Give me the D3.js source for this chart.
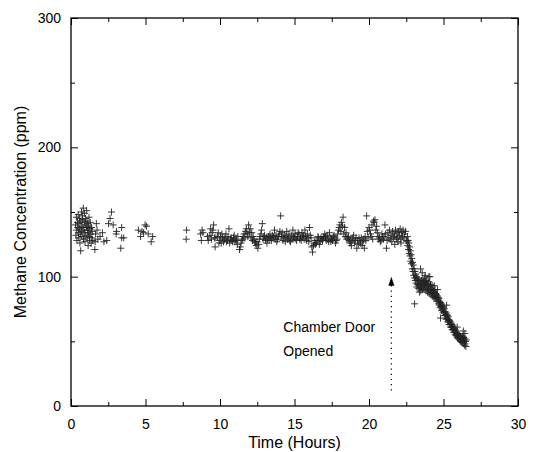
<!DOCTYPE html>
<meta charset="utf-8">
<script src="https://d3js.org/d3.v7.min.js"></script>
<style>
  body { margin: 0; background: #fff; }
  svg { font-family: 'Liberation Sans', Arial, sans-serif; }
</style>
<body>
<div id="chart"></div>
<script>

// readings, [hours, ppm]
var earlyCluster = [
  [0.3,140],[0.33,132],[0.36,146],[0.38,136],[0.4,128],[0.43,142],[0.45,138],[0.48,148],[0.5,134],[0.52,130],
  [0.54,141],[0.56,145],[0.58,137],[0.6,126],[0.63,133],[0.65,120],[0.66,143],[0.68,139],[0.7,150],[0.72,135],
  [0.74,131],[0.76,144],[0.78,147],[0.8,138],[0.82,153],[0.84,129],[0.86,136],[0.88,142],[0.9,149],[0.92,134],
  [0.94,127],[0.96,140],[0.98,145],[1.0,132],[1.03,138],[1.05,151],[1.07,143],[1.09,130],[1.11,136],[1.13,141],
  [1.15,124],[1.17,134],[1.19,139],[1.21,146],[1.23,131],[1.25,128],[1.27,137],[1.29,142],[1.32,133],[1.35,126],
  [1.38,138],[1.4,130],[1.43,135],[1.46,128]
];

var earlyScatter = [
  [1.6,121],[1.62,127],[1.65,133],[1.7,141],[1.75,136],[1.8,129],[1.95,131],[2.11,134],[2.21,127],[2.4,128],
  [2.52,141],[2.62,145],[2.72,150],[2.83,140],[3.03,133],[3.06,135],[3.34,122],[3.4,138],[3.4,130],[3.54,130],
  [4.52,136],[4.67,131],[4.77,135],[4.87,134],[4.97,140],[5.07,139],[5.18,133],[5.38,127],[5.48,131]
];

var steadyA = [
  [7.73,129],[7.76,136],[8.70,133],[8.75,128],[8.80,136],[8.86,134],
  [9.16,131],[9.37,137],[9.47,134],[9.57,140],[9.67,123],[9.72,130],[9.88,134],[9.98,128],[10.08,126],[10.18,130],[10.29,129],
  [10.4,133],[10.5,128],[10.6,137],[10.7,129],[10.8,128],[10.9,130],[11.0,127],[11.1,128],[11.2,131],[11.31,121],[11.36,123],[11.41,126],
  [11.52,129],[11.62,133],[11.72,135],[11.82,133],[11.92,140],[12.03,137],[12.13,134],[12.23,131],[12.33,127],[12.38,126],[12.43,124],
  [12.54,122],[12.64,129],[12.74,133],[12.84,141],[12.94,131],
  [13.05,128],[13.15,126],[13.25,131],[13.35,133],[13.45,128],[13.56,130],[13.66,136],[13.76,132],[13.86,129],[13.97,133],[14.07,147],
  [14.17,134],[14.27,130],[14.38,127],[14.48,135],[14.58,130],[14.68,128],[14.78,132],[14.89,136],[14.99,130],[15.09,129],[15.19,131],[15.3,133],
  [15.4,130],[15.5,134],[15.6,132],[15.7,136],[15.81,128],[15.91,130],[16.01,138],[16.11,130],[16.16,123],[16.21,119],[16.32,126],
  [16.42,125],[16.52,128],[16.62,130],[16.73,127],[16.83,129],[16.93,131],[17.03,133],[17.13,128],[17.24,129],
  [17.34,134],[17.44,127],[17.54,128],[17.65,132],[17.75,126],[17.85,129],[17.95,136],[18.05,140],[18.16,142],[18.26,146],[18.36,138],
  [18.46,134],[18.57,130],[18.67,128],[18.77,127],[18.87,129],[18.97,132],[19.08,128],[19.18,122],[19.28,125],[19.38,128],[19.48,130],
  [19.59,127],[19.69,122],[19.79,128],[19.84,147],[19.89,135],[20.0,138],[20.1,133],[20.2,140],[20.3,143],[20.35,142],[20.4,144],
  [20.51,139],[20.61,131],[20.66,129],[20.71,130],[20.81,128],[20.92,131]
];

var steadyB = [
  [9.21,128],[9.32,132],[9.42,129],[9.52,136],[9.62,130],[9.83,131],[9.93,126],[10.03,131],[10.13,133],[10.24,127],[10.34,130],[10.44,127],
  [10.54,131],[10.65,126],[10.75,130],[10.85,127],[10.95,132],[11.05,129],[11.16,125],[11.46,128],[11.56,131],[11.67,130],[11.77,137],
  [11.87,131],[11.97,134],[12.08,130],[12.18,128],[12.28,129],[12.48,127],[12.59,125],[12.69,131],[12.79,136],[12.89,129],[12.99,132],
  [13.1,130],[13.2,129],[13.3,128],[13.4,130],[13.51,132],[13.61,131],[13.71,129],[13.81,127],[13.92,131],[14.02,135],[14.12,131],
  [14.22,128],[14.32,132],[14.43,131],[14.53,129],[14.63,133],[14.73,127],[14.84,129],[14.94,131],[15.04,133],[15.14,128],[15.24,134],
  [15.35,129],[15.45,128],[15.55,131],[15.65,129],[15.75,131],[15.86,133],[15.96,127],[16.06,132],[16.27,124],[16.37,128],[16.47,126],
  [16.57,131],[16.67,125],[16.78,130],[16.88,128],[16.98,130],[17.08,131],[17.19,132],[17.29,127],[17.39,130],[17.49,129],[17.6,131],
  [17.7,130],[17.8,128],[17.9,133],[18.0,138],[18.11,135],[18.21,139],[18.31,133],[18.41,131],[18.51,129],[18.62,131],[18.72,126],
  [18.82,124],[18.92,130],[19.03,126],[19.13,130],[19.23,128],[19.33,130],[19.43,126],[19.54,124],[19.64,129],[19.74,131],[19.94,130],
  [20.05,136],[20.15,131],[20.25,129],[20.46,136],[20.56,134],[20.76,127],[20.87,133],[20.97,129]
];

var plateau = [
  [21.02,131],[21.07,140],[21.12,133],[21.17,122],[21.22,128],[21.27,134],[21.33,130],[21.38,136],[21.43,129],[21.48,132],[21.53,127],
  [21.58,135],[21.63,130],[21.68,133],[21.73,131],[21.78,136],[21.84,129],[21.89,134],[21.94,130],[21.99,135],[22.04,132],[22.09,137],
  [22.14,129],[22.19,134],[22.24,131],[22.29,136],[22.35,130],[22.4,133],[22.45,135],[22.5,128],[22.14,126],[21.94,127],[21.73,125]
];

var decline = [
  [22.55,127],[22.58,131],[22.60,124],[22.63,128],[22.65,121],[22.67,126],[22.70,118],[22.72,123],[22.75,116],[22.77,120],
  [22.80,112],[22.82,117],[22.85,110],[22.87,114],[22.90,106],[22.92,111],[22.95,104],[22.97,109],[23.00,101],[23.03,106],
  [23.06,99],[23.08,104],[23.11,97],[23.13,102],[23.16,95],[23.18,100],[23.21,92],[23.23,98],[23.26,94],[23.28,99],
  [23.31,91],[23.33,97],[23.36,93],[23.38,88],[23.41,96],[23.43,91],[23.46,94],[23.48,89],[23.51,97],[23.53,92],
  [23.57,95],[23.59,90],[23.62,98],[23.64,93],[23.67,96],[23.69,90],[23.72,94],[23.74,99],[23.77,92],[23.79,96],
  [23.82,89],[23.84,94],[23.87,97],[23.89,91],[23.92,95],[23.94,88],[23.97,93],[23.99,90],[24.02,96],[24.05,87],
  [24.08,92],[24.10,89],[24.13,94],[24.15,86],[24.18,91],[24.20,88],[24.23,93],[24.25,85],[24.28,90],[24.30,87],
  [24.33,89],[24.35,84],[24.38,88],[24.40,85],[24.43,90],[24.45,83],[24.48,87],[24.50,84],[24.53,86],[24.55,81],
  [24.60,85],[24.62,82],[24.65,84],[24.67,79],[24.70,83],[24.72,78],[24.75,81],[24.77,76],[24.80,80],[24.82,77],
  [24.85,79],[24.87,74],[24.90,78],[24.92,75],[24.95,77],[24.97,72],[25.00,76],[25.02,73],[25.05,75],[25.08,70],
  [25.11,73],[25.13,70],[25.16,72],[25.18,67],[25.21,71],[25.23,68],[25.26,70],[25.28,65],[25.31,69],[25.33,66],
  [25.36,67],[25.38,63],[25.41,66],[25.43,63],[25.46,65],[25.48,61],[25.51,64],[25.53,61],[25.56,63],[25.58,59],
  [25.62,62],[25.64,59],[25.67,61],[25.69,57],[25.72,60],[25.74,57],[25.77,59],[25.79,55],[25.82,58],[25.84,55],
  [25.87,57],[25.89,54],[25.92,56],[25.94,53],[25.97,56],[25.99,52],[26.02,55],[26.04,52],[26.07,54],[26.10,51],
  [26.13,54],[26.15,50],[26.18,53],[26.20,50],[26.23,52],[26.25,49],[26.28,54],[26.30,51],[26.33,49],[26.35,53],
  [26.38,50],[26.40,47],[26.43,52],[26.45,48],[26.48,50],[26.50,46],[26.53,51],
  [23.06,79],[24.80,68],[24.08,100],[23.57,103],[23.46,106],[25.21,78],[26.33,58],[26.43,56],[25.92,61],[23.77,101],
  [24.02,100],[24.60,90],[24.38,93]
];

var xMajor = [0, 5, 10, 15, 20, 25, 30];
var xMinor = [2.5, 7.5, 12.5, 17.5, 22.5, 27.5];
var yMajor = [0, 100, 200, 300];
var yMinor = [50, 150, 250];

var doorOpenedAt = 21.5;
var arrowFrom = 12, arrowTo = 100;

var width = 539,
    height = 452,
    margin = {top: 18, right: 21, bottom: 46, left: 71};

var svg = d3.select("#chart").append("svg")
    .attr("width", width)
    .attr("height", height);

var x = d3.scaleLinear().domain([0, 30]).range([margin.left, width - margin.right]);
var y = d3.scaleLinear().domain([0, 300]).range([height - margin.bottom, margin.top]);

var all = earlyCluster.concat(earlyScatter, steadyA, steadyB, plateau, decline);

// markers
svg.append("g")
  .selectAll("path")
  .data(all)
  .enter().append("path")
    .attr("transform", function(d) { return "translate(" + x(d[0]) + "," + y(d[1]) + ")"; })
    .attr("d", "M-3.5,0H3.5M0,-3.5V3.5")
    .attr("stroke", "#222")
    .attr("stroke-width", 0.9)
    .attr("fill", "none");

// axes, ticks point inward
function styleAxis(g) {
  g.select(".domain").remove();
  g.selectAll("line").attr("stroke", "#000");
  g.selectAll("text").attr("font-size", 14).attr("fill", "#000");
}

var fmt = d3.format("d");
svg.append("g")
  .attr("transform", "translate(0," + y(0) + ")")
  .call(d3.axisBottom(x).tickValues(xMajor).tickSize(-7).tickPadding(13).tickFormat(fmt))
  .call(styleAxis);
svg.append("g")
  .attr("transform", "translate(0," + y(0) + ")")
  .call(d3.axisBottom(x).tickValues(xMinor).tickSize(-4).tickFormat(""))
  .call(styleAxis);
svg.append("g")
  .attr("transform", "translate(0," + y(300) + ")")
  .call(d3.axisTop(x).tickValues(xMajor).tickSize(-7).tickFormat(""))
  .call(styleAxis);
svg.append("g")
  .attr("transform", "translate(0," + y(300) + ")")
  .call(d3.axisTop(x).tickValues(xMinor).tickSize(-4).tickFormat(""))
  .call(styleAxis);

svg.append("g")
  .attr("transform", "translate(" + x(0) + ",0)")
  .call(d3.axisLeft(y).tickValues(yMajor).tickSize(-7).tickPadding(10).tickFormat(fmt))
  .call(styleAxis);
svg.append("g")
  .attr("transform", "translate(" + x(0) + ",0)")
  .call(d3.axisLeft(y).tickValues(yMinor).tickSize(-4).tickFormat(""))
  .call(styleAxis);
svg.append("g")
  .attr("transform", "translate(" + x(30) + ",0)")
  .call(d3.axisRight(y).tickValues(yMajor).tickSize(-7).tickFormat(""))
  .call(styleAxis);
svg.append("g")
  .attr("transform", "translate(" + x(30) + ",0)")
  .call(d3.axisRight(y).tickValues(yMinor).tickSize(-4).tickFormat(""))
  .call(styleAxis);

// frame
svg.append("rect")
  .attr("x", x(0)).attr("y", y(300))
  .attr("width", x(30) - x(0)).attr("height", y(0) - y(300))
  .attr("fill", "none")
  .attr("stroke", "#000")
  .attr("stroke-width", 1.3);

// titles
svg.append("text")
  .attr("x", (x(0) + x(30)) / 2)
  .attr("y", height - 4)
  .attr("text-anchor", "middle")
  .attr("font-size", 16)
  .text("Time (Hours)");

svg.append("text")
  .attr("transform", "translate(26," + (y(0) + y(300)) / 2 + ") rotate(-90)")
  .attr("text-anchor", "middle")
  .attr("font-size", 16)
  .text("Methane Concentration (ppm)");

// annotation
svg.append("line")
  .attr("x1", x(doorOpenedAt)).attr("x2", x(doorOpenedAt))
  .attr("y1", y(arrowFrom)).attr("y2", y(arrowTo) + 8)
  .attr("stroke", "#000")
  .attr("stroke-width", 1.2)
  .attr("stroke-dasharray", "1.2,4");
svg.append("path")
  .attr("transform", "translate(" + x(doorOpenedAt) + "," + y(arrowTo) + ")")
  .attr("d", "M0,0L-3,9L3,9Z")
  .attr("fill", "#000");

var noteX = x(doorOpenedAt) - 108;
svg.append("text")
  .attr("font-size", 14)
  .attr("x", noteX)
  .attr("y", 332)
  .text("Chamber Door");
svg.append("text")
  .attr("font-size", 14)
  .attr("x", noteX)
  .attr("y", 356)
  .text("Opened");

</script>
</body>
